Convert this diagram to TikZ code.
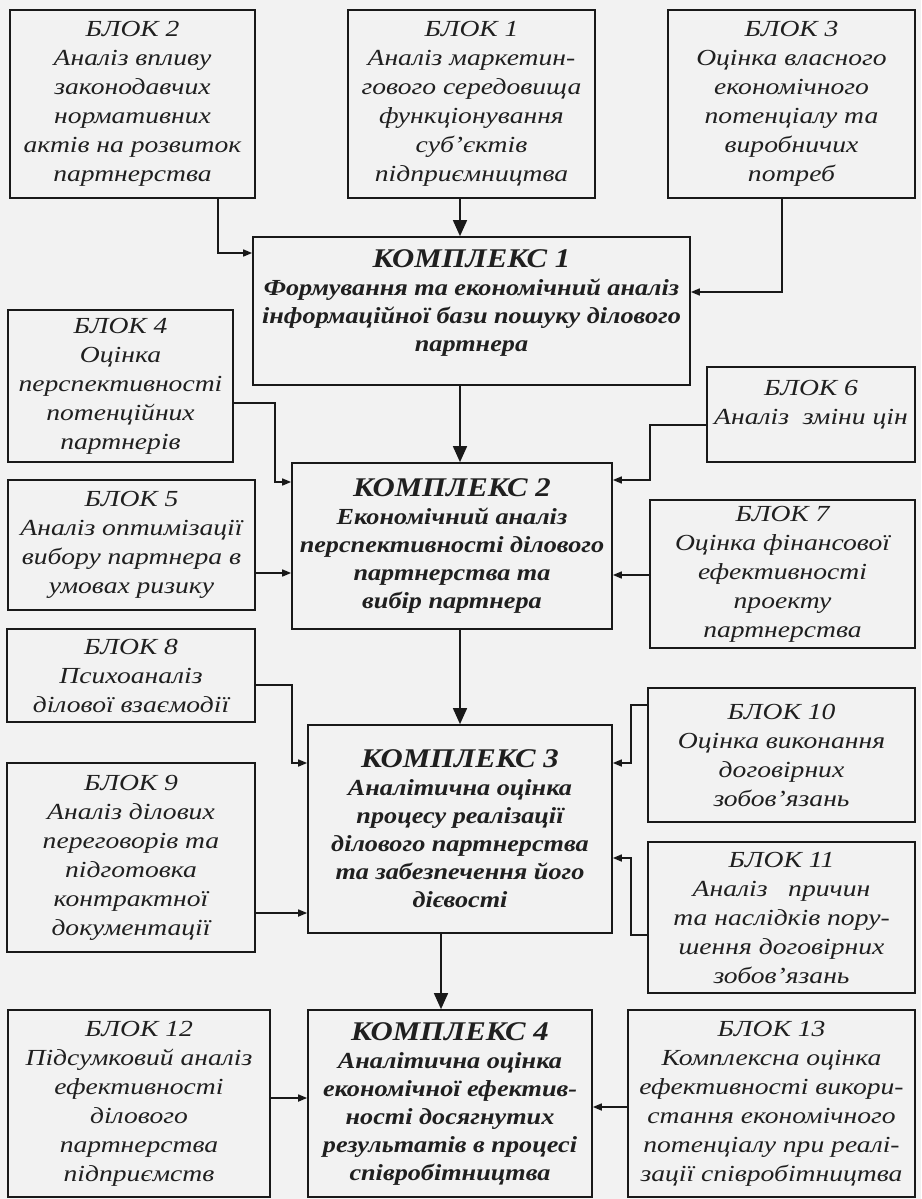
\documentclass[tikz,border=0pt]{standalone}
\usepackage{fontspec}
\setmainfont{Liberation Serif}[ItalicFeatures={FakeStretch=1.2}, BoldItalicFeatures={FakeStretch=1.14}]
\usetikzlibrary{arrows.meta}
\tikzset{
  box/.style={draw=black!90, line width=1.7pt, rectangle, align=center, inner sep=0pt,
    text=black!88, font=\itshape\fontsize{23}{29}\selectfont},
  cbox/.style={box, font=\bfseries\itshape\fontsize{23}{28}\selectfont},
  marr/.style={draw=black!90, line width=1.6pt, -{Triangle[length=16pt,width=14pt]}},
  sarr/.style={draw=black!90, line width=1.6pt, -{Triangle[length=9pt,width=7pt]}},
}
\newcommand{\ct}[1]{{\fontsize{27}{30}\selectfont #1}}
\begin{document}
\begin{tikzpicture}[x=1pt,y=-1pt]
\fill[black!5] (0,0) rectangle (921,1199);
\useasboundingbox (0,0) rectangle (921,1199);
% top row
\node[box, minimum width=245pt, minimum height=188pt] (b2) at (132.5,104)
 {БЛОК 2\\Аналіз впливу\\законодавчих\\нормативних\\актів на розвиток\\партнерства};
\node[box, minimum width=247pt, minimum height=188pt] (b1) at (471.5,104)
 {БЛОК 1\\Аналіз маркетин-\\гового середовища\\функціонування\\суб’єктів\\підприємництва};
\node[box, minimum width=247pt, minimum height=188pt] (b3) at (791.5,104)
 {БЛОК 3\\Оцінка власного\\економічного\\потенціалу та\\виробничих\\потреб};
% complex 1
\node[cbox, minimum width=437pt, minimum height=148pt] (k1) at (471.5,311)
 {\ct{КОМПЛЕКС 1}\\Формування та економічний аналіз\\інформаційної бази пошуку ділового\\партнера\\[-7pt]\mbox{}};
% second group
\node[box, minimum width=225pt, minimum height=152pt] (b4) at (120.5,386)
 {БЛОК 4\\Оцінка\\перспективності\\потенційних\\партнерів};
\node[box, minimum width=247pt, minimum height=130pt] (b5) at (131.5,545)
 {БЛОК 5\\Аналіз оптимізації\\вибору партнера в\\умовах ризику};
\node[cbox, minimum width=320pt, minimum height=166pt] (k2) at (452,546)
 {\ct{КОМПЛЕКС 2}\\Економічний аналіз\\перспективності ділового\\партнерства та\\вибір партнера};
\node[box, minimum width=208pt, minimum height=95pt] (b6) at (811,414.5)
 {БЛОК 6\\Аналіз\ \ зміни цін\\[-5pt]\mbox{}};
\node[box, minimum width=265pt, minimum height=148pt] (b7) at (782.5,574)
 {БЛОК 7\\Оцінка фінансової\\ефективності\\проекту\\партнерства};
% third group
\node[box, minimum width=248pt, minimum height=93pt] (b8) at (131,675.5)
 {БЛОК 8\\Психоаналіз\\ділової взаємодії};
\node[box, minimum width=248pt, minimum height=189pt] (b9) at (131,857.5)
 {БЛОК 9\\Аналіз ділових\\переговорів та\\підготовка\\контрактної\\документації};
\node[cbox, minimum width=304pt, minimum height=208pt] (k3) at (460,829)
 {\ct{КОМПЛЕКС 3}\\Аналітична оцінка\\процесу реалізації\\ділового партнерства\\та забезпечення його\\дієвості};
\node[box, minimum width=267pt, minimum height=134pt] (b10) at (781.5,755)
 {БЛОК 10\\Оцінка виконання\\договірних\\зобов’язань};
\node[box, minimum width=267pt, minimum height=151pt] (b11) at (781.5,917.5)
 {БЛОК 11\\Аналіз\ \ \ причин\\та наслідків пору-\\шення договірних\\зобов’язань};
% bottom row
\node[box, minimum width=262pt, minimum height=187pt] (b12) at (139,1103.5)
 {БЛОК 12\\Підсумковий аналіз\\ефективності\\ділового\\партнерства\\підприємств};
\node[cbox, minimum width=284pt, minimum height=187pt] (k4) at (450,1103.5)
 {\ct{КОМПЛЕКС 4}\\Аналітична оцінка\\економічної ефектив-\\ності досягнутих\\результатів в процесі\\співробітництва};
\node[box, minimum width=287pt, minimum height=187pt] (b13) at (771.5,1103.5)
 {БЛОК 13\\Комплексна оцінка\\ефективності викори-\\стання економічного\\потенціалу при реалі-\\зації співробітництва};
% connectors
\draw[marr] (b1.south -| 460,0) -- (k1.north -| 460,0);
\draw[sarr] (b2.south -| 218,0) |- (k1.west |- 0,253);
\draw[sarr] (b3.south -| 782,0) |- (k1.east |- 0,292);
\draw[marr] (k1.south -| 460,0) -- (k2.north -| 460,0);
\draw[sarr] (b4.east |- 0,403) -| (275,482) -- (k2.west |- 0,482);
\draw[sarr] (b5.east |- 0,573) -- (k2.west |- 0,573);
\draw[sarr] (b6.west |- 0,425) -| (650,480) -- (k2.east |- 0,480);
\draw[sarr] (b7.west |- 0,575) -- (k2.east |- 0,575);
\draw[marr] (k2.south -| 460,0) -- (k3.north -| 460,0);
\draw[sarr] (b8.east |- 0,685) -| (292,763) -- (k3.west |- 0,763);
\draw[sarr] (b9.east |- 0,913) -- (k3.west |- 0,913);
\draw[sarr] (b10.west |- 0,705) -| (631,763) -- (k3.east |- 0,763);
\draw[sarr] (b11.west |- 0,935) -| (631,858) -- (k3.east |- 0,858);
\draw[marr] (k3.south -| 441,0) -- (k4.north -| 441,0);
\draw[sarr] (b12.east |- 0,1098) -- (k4.west |- 0,1098);
\draw[sarr] (b13.west |- 0,1107) -- (k4.east |- 0,1107);
\end{tikzpicture}
\end{document}
